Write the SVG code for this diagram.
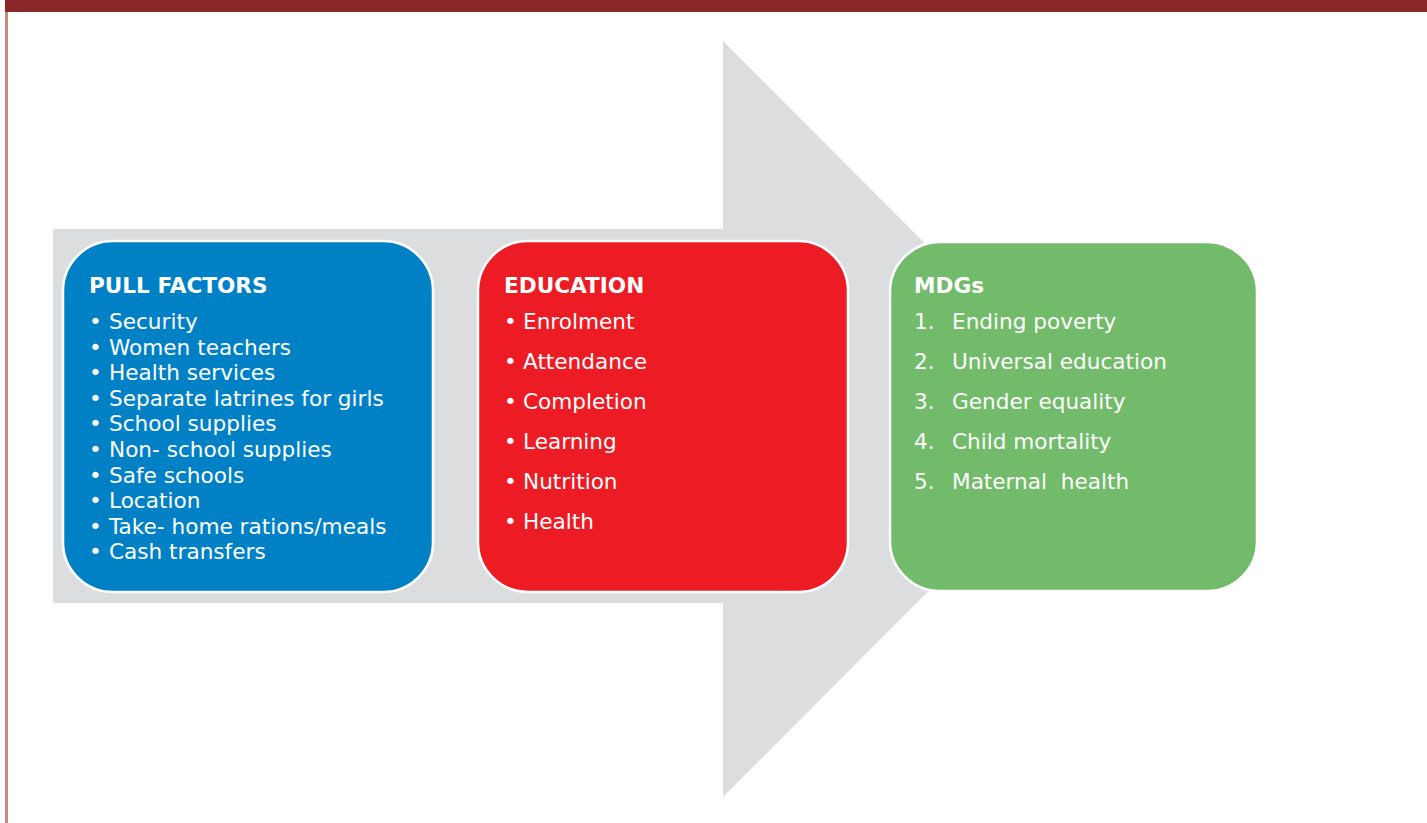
<svg xmlns="http://www.w3.org/2000/svg" width="1427" height="823" viewBox="0 0 1427 823">
<style>
.t{font-family:"DejaVu Sans",Verdana,sans-serif;font-size:21.6px;fill:#fff}
.h{font-weight:bold}
.box{stroke:#fff;stroke-width:2.5}
</style>
<rect x="0" y="0" width="1427" height="823" fill="#fff"/>
<rect x="5" y="0" width="1422" height="12" fill="#8B2629"/>
<rect x="5" y="12" width="3" height="811" fill="#C98A7E"/>
<g id="arrow">
<polygon points="53,229 723,229 723,41 1100,419 723,797 723,603 53,603" fill="#DCDDDE"/>
</g>
<g id="pull-factors">
<rect class="box" x="63" y="241" width="370" height="351" rx="50" ry="50" fill="#0081C6"/>
<text class="t h" x="89" y="293">PULL FACTORS</text>
<g class="t">
<text x="89" y="329">•</text><text x="109" y="329">Security</text>
<text x="89" y="354.6">•</text><text x="109" y="354.6">Women teachers</text>
<text x="89" y="380.2">•</text><text x="109" y="380.2">Health services</text>
<text x="89" y="405.8">•</text><text x="109" y="405.8">Separate latrines for girls</text>
<text x="89" y="431.4">•</text><text x="109" y="431.4">School supplies</text>
<text x="89" y="457">•</text><text x="109" y="457">Non- school supplies</text>
<text x="89" y="482.6">•</text><text x="109" y="482.6">Safe schools</text>
<text x="89" y="508.2">•</text><text x="109" y="508.2">Location</text>
<text x="89" y="533.8">•</text><text x="109" y="533.8">Take- home rations/meals</text>
<text x="89" y="559.4">•</text><text x="109" y="559.4">Cash transfers</text>
</g>
</g>
<g id="education">
<rect class="box" x="478" y="241" width="370" height="351" rx="50" ry="50" fill="#ED1C24"/>
<text class="t h" x="504" y="293">EDUCATION</text>
<g class="t">
<text x="504" y="329">•</text><text x="523" y="329">Enrolment</text>
<text x="504" y="369">•</text><text x="523" y="369">Attendance</text>
<text x="504" y="409">•</text><text x="523" y="409">Completion</text>
<text x="504" y="449">•</text><text x="523" y="449">Learning</text>
<text x="504" y="489">•</text><text x="523" y="489">Nutrition</text>
<text x="504" y="529">•</text><text x="523" y="529">Health</text>
</g>
</g>
<g id="mdgs">
<rect class="box" x="890" y="242" width="367" height="349" rx="50" ry="50" fill="#72BB6A"/>
<text class="t h" x="914" y="293">MDGs</text>
<g class="t">
<text x="914" y="329">1.</text><text x="952" y="329">Ending poverty</text>
<text x="914" y="369">2.</text><text x="952" y="369">Universal education</text>
<text x="914" y="409">3.</text><text x="952" y="409">Gender equality</text>
<text x="914" y="449">4.</text><text x="952" y="449">Child mortality</text>
<text x="914" y="489">5.</text><text x="952" y="489" xml:space="preserve">Maternal  health</text>
</g>
</g>
</svg>
